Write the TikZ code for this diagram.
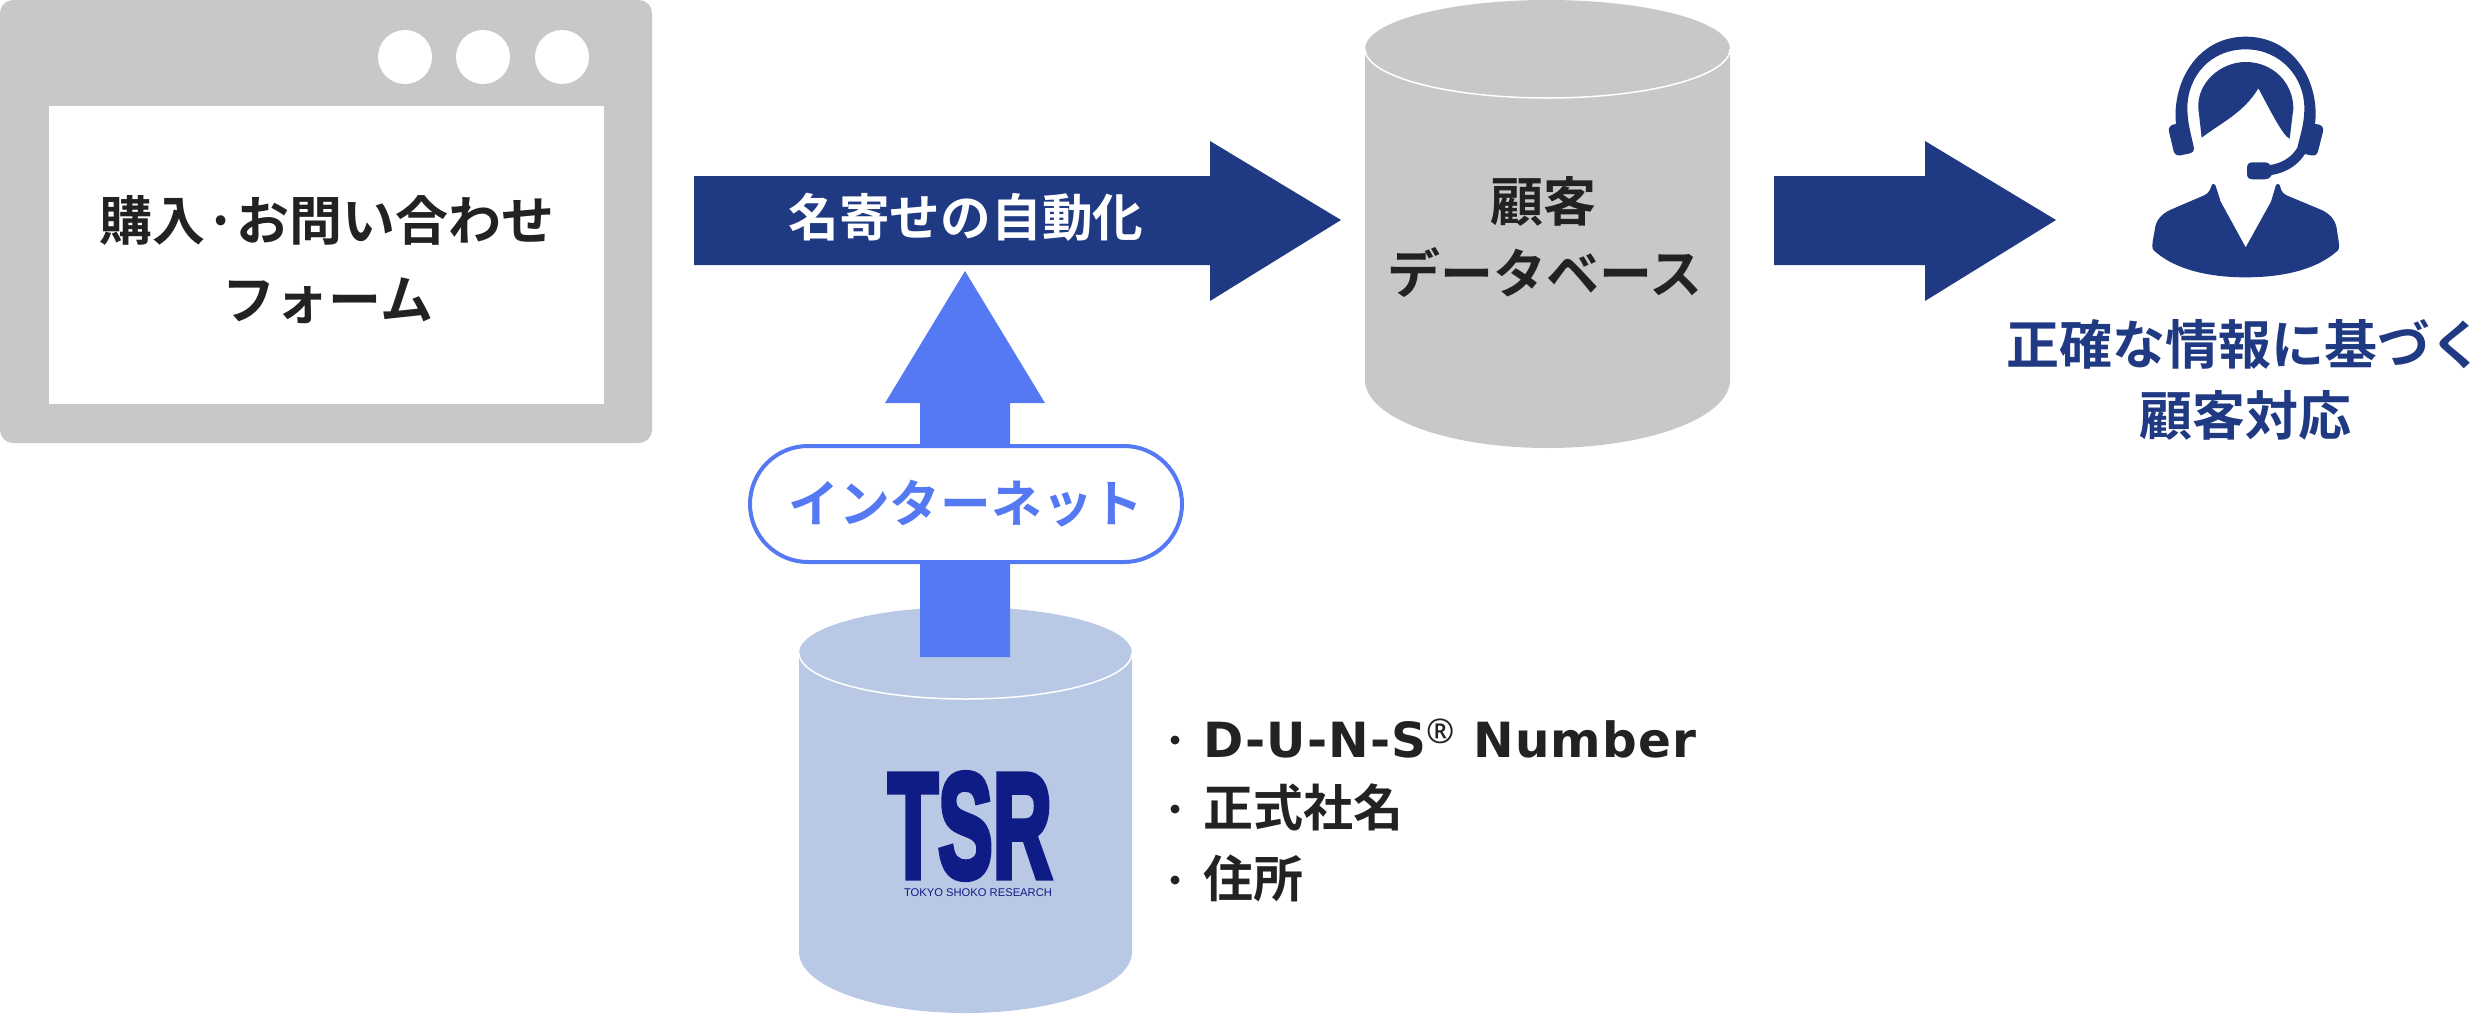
\documentclass[tikz,border=0pt]{standalone}
\usepackage{fontspec}
\setmainfont{Noto Sans CJK JP}[BoldFont={Noto Sans CJK JP Bold}]
\newfontfamily\latinbold{DejaVu Sans Bold}[LetterSpace=2.5]
\newfontfamily\regmark{Noto Sans}
\newfontfamily\logofont{Liberation Sans}
\newfontfamily\logoheavy{Liberation Sans Bold}[FakeBold=4.5]
\definecolor{navy}{HTML}{1F3A82}
\definecolor{brightblue}{HTML}{5579F2}
\definecolor{lightcyl}{HTML}{B9C8E5}
\definecolor{greyshape}{HTML}{C8C8C8}
\definecolor{inktext}{HTML}{222222}
\definecolor{logoblue}{HTML}{101C85}
\tikzset{
  label text/.style={font=\bfseries\fontsize{53}{53}\selectfont,text=inktext,inner sep=0pt,anchor=center},
  arrow text/.style={font=\bfseries\fontsize{50.7}{50.7}\selectfont,inner sep=0pt,anchor=center},
  navy text/.style={label text,text=navy},
  list text/.style={font=\bfseries\fontsize{50}{50}\selectfont,text=inktext,inner sep=0pt,anchor=west},
  block navy/.style={fill=navy},
  block bright/.style={fill=brightblue},
  bullet dot/.style={circle,fill=inktext,minimum size=9pt,inner sep=0pt},
}
\begin{document}
\begin{tikzpicture}[x=1pt,y=-1pt]
\useasboundingbox (0,0) rectangle (2486,1015);
% browser window
\fill[greyshape,rounded corners=13pt] (0,0) rectangle (652,443);
\fill[white] (49,106) rectangle (604,404);
\foreach \cx in {405,483,562} \fill[white] (\cx,57) circle (27);
\node[label text] (form1) at (327,220) {購入·お問い合わせ};
\node[label text] (form2) at (328,301) {フォーム};
% arrow 1
\fill[block navy] (694,176) -- (1210,176) -- (1210,141) -- (1341,220) -- (1210,301) -- (1210,265) -- (694,265) -- cycle;
\node[arrow text,text=white] (auto) at (966,217) {名寄せの自動化};
% grey cylinder
\fill[greyshape] (1365,49) arc[start angle=180,end angle=0,x radius=182.5,y radius=49]
  arc[start angle=0,end angle=-180,x radius=182.5,y radius=49] -- cycle;
\fill[greyshape] (1365,49) -- (1365,380) arc[start angle=180,end angle=0,x radius=182.5,y radius=68] -- (1730,49) -- cycle;
\draw[white,line width=1.5pt] (1365,49) arc[start angle=180,end angle=0,x radius=182.5,y radius=49];
\node[label text] (db1) at (1543,201) {顧客};
\node[label text] (db2) at (1545,273) {データベース};
% arrow 2
\fill[block navy] (1774,176) -- (1925,176) -- (1925,141) -- (2056,220) -- (1925,301) -- (1925,265) -- (1774,265) -- cycle;
% person
\begin{scope}[shift={(2050,0)},scale=0.33333]
\fill[navy] (378,372) .. controls (365,250) and (440,110) .. (587,110)
  .. controls (735,110) and (810,250) .. (795,372)
  .. controls (815,372) and (822,382) .. (819,395) -- (805,450)
  .. controls (802,465) and (795,468) .. (782,466) -- (765,462)
  .. controls (740,500) and (705,518) .. (665,525)
  .. controls (658,535) and (655,538) .. (645,538) -- (607,538)
  .. controls (597,538) and (591,532) .. (591,522) -- (591,503)
  .. controls (591,493) and (597,487) .. (607,487) -- (645,487)
  .. controls (652,487) and (658,490) .. (660,495)
  .. controls (695,490) and (725,472) .. (742,443)
  .. controls (752,400) and (763,370) .. (763,325)
  .. controls (763,230) and (690,148) .. (587,148)
  .. controls (480,148) and (412,230) .. (412,325)
  .. controls (412,370) and (425,410) .. (432,445)
  .. controls (433,453) and (428,458) .. (420,460) -- (392,466)
  .. controls (380,468) and (373,463) .. (370,450) -- (357,395)
  .. controls (354,382) and (362,373) .. (378,372) -- cycle;
\fill[navy] (455,413) -- (445,325) .. controls (440,250) and (510,186) .. (587,186)
  .. controls (670,186) and (730,250) .. (730,325) -- (719,416)
  .. controls (700,410) and (660,330) .. (625,265)
  .. controls (580,340) and (510,370) .. (455,413) -- cycle;
\fill[navy] (587,742) -- (512,605) -- (497,558) .. controls (494,550) and (486,550) .. (484,558)
  .. controls (480,575) and (470,583) .. (460,587) -- (360,630)
  .. controls (335,642) and (318,660) .. (315,685) -- (308,725)
  .. controls (305,745) and (308,750) .. (318,757)
  .. controls (380,810) and (480,832) .. (587,832)
  .. controls (695,832) and (795,810) .. (857,757)
  .. controls (867,750) and (869,745) .. (866,725) -- (860,685)
  .. controls (856,660) and (840,642) .. (815,630) -- (712,587)
  .. controls (702,583) and (693,575) .. (690,558)
  .. controls (688,550) and (680,550) .. (677,558) -- (663,605) -- cycle;
\end{scope}
\node[navy text] (care1) at (2245,344) {正確な情報に基づく};
\node[navy text] (care2) at (2245,415) {顧客対応};
% TSR cylinder
\fill[lightcyl] (799,653) arc[start angle=180,end angle=0,x radius=166.5,y radius=46]
  arc[start angle=0,end angle=-180,x radius=166.5,y radius=46] -- cycle;
\fill[lightcyl] (799,653) -- (799,952) arc[start angle=180,end angle=0,x radius=166.5,y radius=61] -- (1132,653) -- cycle;
\draw[white,line width=1.5pt] (799,653) arc[start angle=180,end angle=0,x radius=166.5,y radius=46];
% bright arrow
\fill[block bright] (920,657) -- (920,403) -- (885,403) -- (965,271) -- (1045,403) -- (1010,403) -- (1010,657) -- cycle;
\node[draw=brightblue,line width=4pt,fill=white,rounded corners=58pt,minimum width=432pt,minimum height=116pt,inner sep=0pt,
  arrow text,text=brightblue] (net) at (966,504) {インターネット};
% TSR logo
\node[inner sep=0pt,text=logoblue] (tsr) at (970,826) {\resizebox{164pt}{104pt}{\logoheavy TSR}};
\node[inner sep=0pt,text=logoblue,font=\logofont\fontsize{11.2}{11.2}\selectfont] (tsrsub) at (978,893) {TOKYO SHOKO RESEARCH};
% list
\node[bullet dot] (b1) at (1175,740) {};
\node[bullet dot] (b2) at (1175,809) {};
\node[bullet dot] (b3) at (1175,880) {};
\node[list text] (duns) at (1203,739) {\latinbold\fontsize{48.5}{48.5}\selectfont D-U-N-S\raisebox{14pt}{\regmark\fontsize{34}{34}\selectfont ®} Number};
\node[list text] (name) at (1203,807) {正式社名};
\node[list text] (addr) at (1203,878) {住所};
\end{tikzpicture}
\end{document}
